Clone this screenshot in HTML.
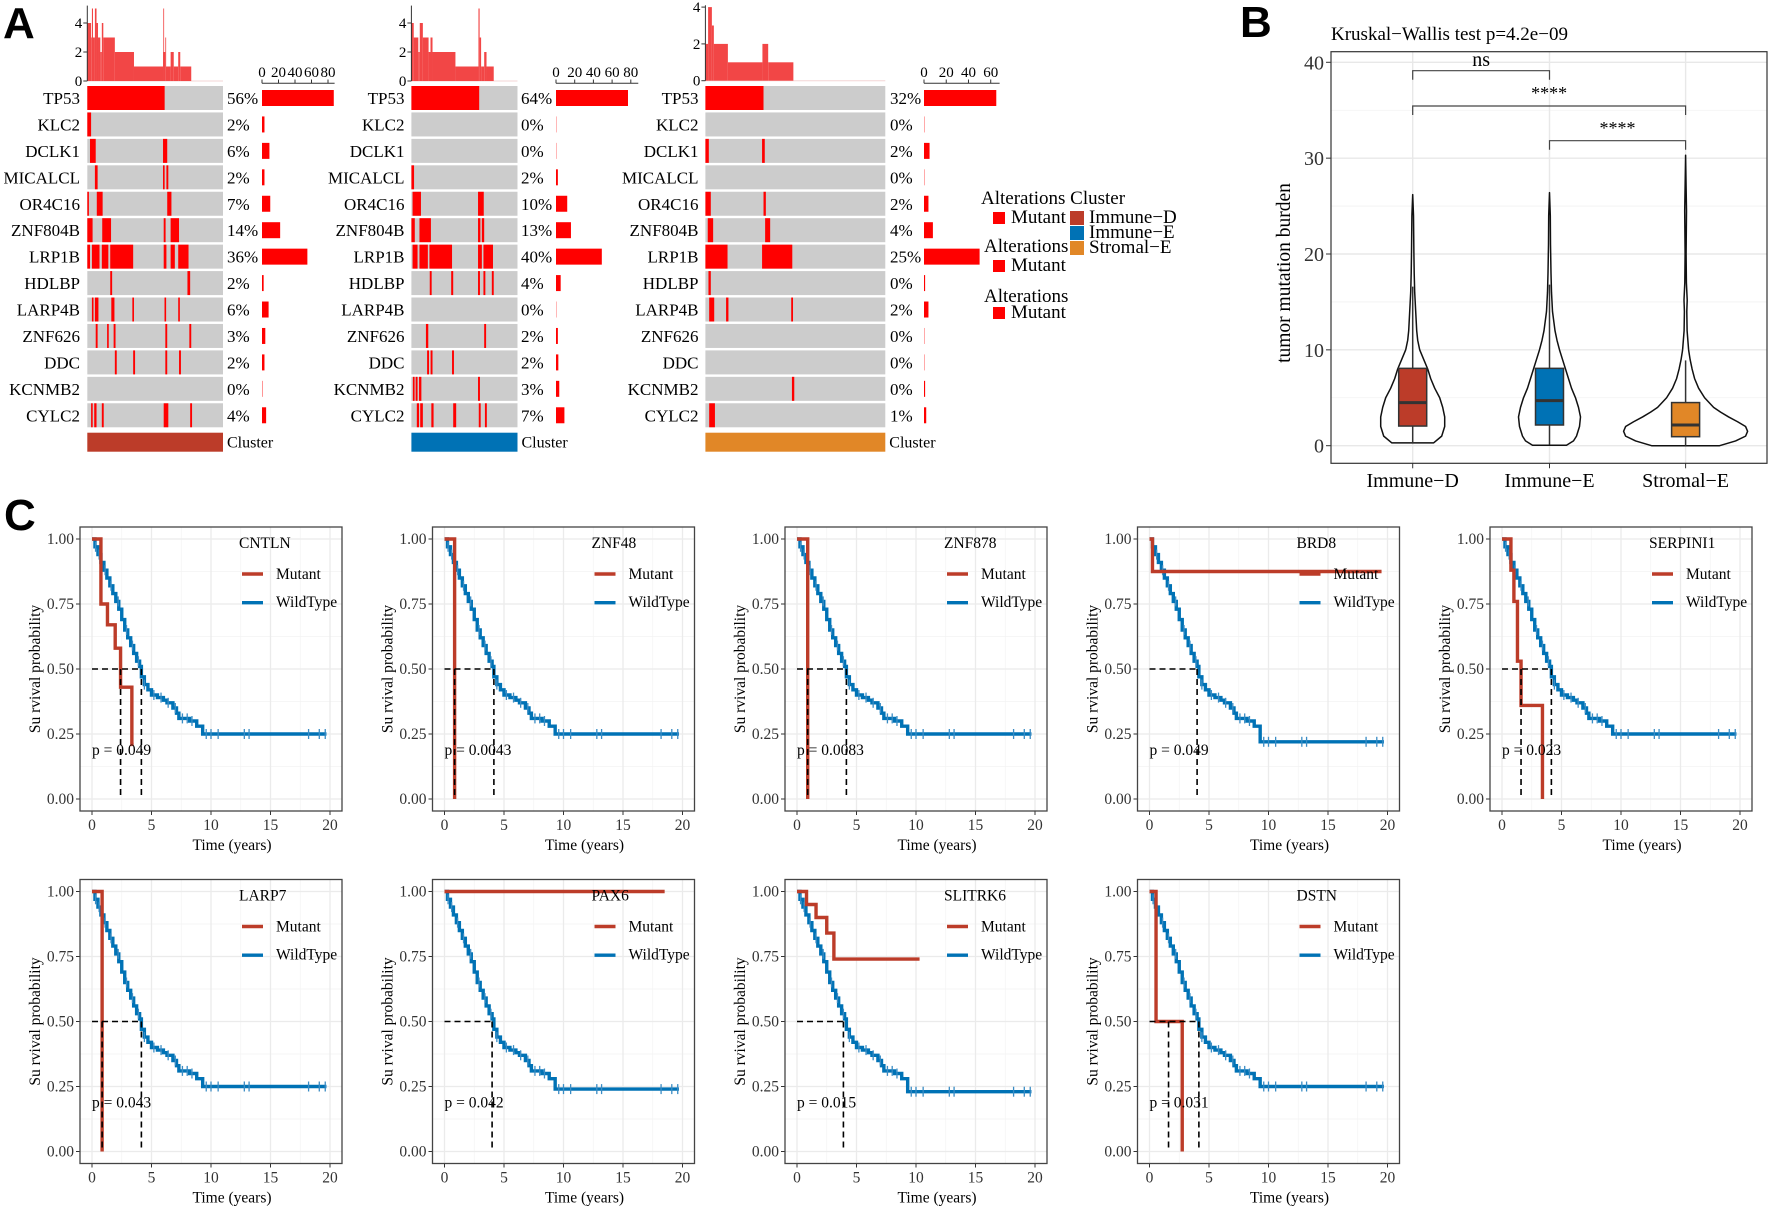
<!DOCTYPE html>
<html><head><meta charset="utf-8">
<style>
html,body{margin:0;padding:0;background:#fff;}
svg{display:block;font-family:"Liberation Serif",serif;}
</style></head>
<body>
<svg id="fig" width="1772" height="1207" viewBox="0 0 1772 1207">
<rect x="0" y="0" width="1772" height="1207" fill="#fff"/>
<text x="3" y="38" font-family="Liberation Sans, sans-serif" font-weight="bold" font-size="44">A</text>
<text x="1240" y="37" font-family="Liberation Sans, sans-serif" font-weight="bold" font-size="44">B</text>
<text x="4" y="530" font-family="Liberation Sans, sans-serif" font-weight="bold" font-size="44">C</text>
<g font-size="19">
<text x="981" y="204">Alterations Cluster</text>
<rect x="993" y="212" width="12" height="12" fill="#ff0000"/>
<text x="1011" y="223">Mutant</text>
<rect x="1070" y="211" width="14" height="14" fill="#BC3C29"/>
<rect x="1070" y="226" width="14" height="14" fill="#0072B5"/>
<rect x="1070" y="241" width="14" height="14" fill="#E18727"/>
<text x="1089" y="223">Immune−D</text>
<text x="1089" y="238">Immune−E</text>
<text x="1089" y="253">Stromal−E</text>
<text x="984" y="252">Alterations</text>
<rect x="993" y="260" width="12" height="12" fill="#ff0000"/>
<text x="1011" y="271">Mutant</text>
<text x="984" y="302">Alterations</text>
<rect x="993" y="307" width="12" height="12" fill="#ff0000"/>
<text x="1011" y="318">Mutant</text>
</g>
</svg>
<script>
// ---------- Panel A data ----------
const genes=['TP53','KLC2','DCLK1','MICALCL','OR4C16','ZNF804B','LRP1B','HDLBP','LARP4B','ZNF626','DDC','KCNMB2','CYLC2'];
const pct1=['56%','2%','6%','2%','7%','14%','36%','2%','6%','3%','2%','0%','4%'];
const pct2=['64%','0%','0%','2%','10%','13%','40%','4%','0%','2%','2%','3%','7%'];
const pct3=['32%','0%','2%','0%','2%','4%','25%','0%','2%','0%','0%','0%','1%'];
const counts1=[87,3,9,3,10,22,55,2,8,4,3,0.5,5];
const counts2=[77,0.3,0.3,2,12,16,49,5,0.3,2,2.5,3.5,9];
const counts3=[65,0.3,5,0.3,4,8,50,1,4,0.3,0.3,1,2];
const barTicks1=[0,20,40,60,80];
const barTicks2=[0,20,40,60,80];
const barTicks3=[0,20,40,60];
const segs1=[[[0,0.57]],[[0,0.028]],[[0.02,0.062],[0.558,0.589]],[[0.056,0.076],[0.558,0.569],[0.583,0.597]],
[[0,0.011],[0.07,0.113],[0.589,0.62]],[[0,0.039],[0.11,0.175],[0.563,0.577],[0.614,0.676]],
[[0,0.02],[0.034,0.09],[0.107,0.155],[0.169,0.338],[0.563,0.583],[0.614,0.645],[0.67,0.746]],
[[0.169,0.183],[0.738,0.758]],[[0.034,0.045],[0.056,0.082],[0.177,0.2],[0.332,0.344],[0.569,0.58],[0.67,0.682]],
[[0.062,0.076],[0.146,0.158],[0.194,0.208],[0.575,0.589],[0.752,0.766]],
[[0.203,0.217],[0.338,0.352],[0.575,0.589],[0.676,0.69]],[],
[[0.028,0.039],[0.051,0.068],[0.107,0.121],[0.563,0.597],[0.758,0.772]]];
const segs2=[[[0,0.639]],[],[],[[0,0.025]],[[0.011,0.09],[0.628,0.682]],[[0,0.032],[0.076,0.184],[0.628,0.65],[0.664,0.686]],
[[0.011,0.058],[0.076,0.155],[0.170,0.383],[0.628,0.664],[0.679,0.769]],
[[0.173,0.191],[0.375,0.394],[0.628,0.646],[0.679,0.697],[0.758,0.776]],[],
[[0.137,0.159],[0.686,0.704]],[[0.148,0.166],[0.181,0.199],[0.383,0.401]],
[[0.014,0.03],[0.04,0.058],[0.072,0.094],[0.628,0.646]],
[[0.051,0.072],[0.083,0.108],[0.188,0.209],[0.394,0.422],[0.635,0.653],[0.693,0.711]]];
const segs3=[[[0,0.323]],[],[[0,0.019],[0.315,0.33]],[],[[0,0.03],[0.323,0.336]],[[0.013,0.043],[0.332,0.36]],
[[0,0.123],[0.315,0.483]],[[0.017,0.03]],[[0.021,0.049],[0.115,0.128],[0.477,0.487]],[],[],[[0.481,0.494]],[[0.021,0.053]]];
const hist1=[[0,0.028,4],[0.028,0.034,3],[0.034,0.042,5],[0.042,0.056,3],[0.056,0.068,5],[0.068,0.079,4],[0.079,0.096,3],[0.096,0.107,2],[0.107,0.118,4],[0.118,0.203,3],[0.203,0.344,2],[0.344,0.558,1],[0.558,0.575,2],[0.56,0.566,5],[0.575,0.58,3],[0.58,0.614,1],[0.614,0.637,2],[0.637,0.67,1],[0.67,0.685,2],[0.685,0.766,1]];
const hist2=[[0,0.022,4],[0.022,0.065,3],[0.065,0.079,2],[0.079,0.108,4],[0.108,0.162,3],[0.162,0.18,2],[0.18,0.199,3],[0.199,0.415,2],[0.415,0.632,1],[0.632,0.643,5],[0.643,0.657,3],[0.657,0.686,1],[0.686,0.708,2],[0.708,0.776,1]];
const hist3=[[0,0.015,2],[0.015,0.036,4],[0.036,0.047,3],[0.047,0.125,2],[0.125,0.317,1],[0.317,0.349,2],[0.349,0.489,1]];
const histTicks=[0,2,4];

// ---------- Panel B data ----------
const groups=['Immune−D','Immune−E','Stromal−E'];
const groupColors=['#BC3C29','#0072B5','#E18727'];
const yTicksB=[0,10,20,30,40];
const violinD=[[0.3,21],[1,29],[2,32],[3,32],[4,30],[5,27],[6,22],[7,18],[8,15],[9,11],[10,7],[11,5],[12,4],[14,3],[16,2],[18,1.5],[20,1.2],[22,1],[24,0.8],[26.2,0]];
const violinE=[[0.05,17],[0.5,24],[1,27],[2,30],[3,31],[4,29],[5,26],[6,22],[7,19],[8,16],[9,13],[10,10],[11,7.5],[12,5.5],[14,3],[16,2],[18,1.5],[21,1],[24,0.8],[26.4,0]];
const violinS=[[0,34],[0.5,50],[1,60],[1.5,62],[2,60],[2.5,52],[3,43],[3.5,35],[4,28],[5,19],[6,13],[7,9],[8,6.5],[9,4.5],[10,3],[12,1.5],[14,1.2],[15.2,1.6],[17,0.8],[20,0.5],[24.5,0.9],[27,0.5],[30.3,0]];
const boxQ1=[2.05,2.16,0.94];
const boxMed=[4.5,4.7,2.16];
const boxQ3=[8.07,8.07,4.5];
const whiskLo=[0.3,0.1,0];
const whiskHi=[16.6,16.8,8.9];

// ---------- Panel C data ----------
const kmGenes=['CNTLN','ZNF48','ZNF878','BRD8','SERPINI1','LARP7','PAX6','SLITRK6','DSTN'];
const pvals=['p = 0.049','p = 0.0043','p = 0.0083','p = 0.049','p = 0.023','p = 0.043','p = 0.042','p = 0.015','p = 0.031'];
const wtTimes=[0,0.25,0.5,0.75,1,1.25,1.5,1.75,2,2.25,2.5,2.75,3,3.25,3.5,3.75,4,4.15,4.4,4.7,5,5.5,6,6.3,6.8,7.1,7.3,8.2,8.8,9.3];
const wtSurv=[1,0.97,0.94,0.91,0.88,0.85,0.82,0.79,0.76,0.73,0.69,0.65,0.62,0.59,0.56,0.53,0.51,0.47,0.44,0.42,0.40,0.39,0.38,0.37,0.35,0.33,0.31,0.30,0.28];
const wtTail=[0.25,0.25,0.25,0.22,0.25,0.25,0.24,0.23,0.25];
const wtEnd=19.7;
const wtCensor=[0.3,0.6,1.1,1.6,2.2,2.9,3.4,3.9,4.4,5.2,5.8,6.4,7.0,7.6,8.0,8.4,9.6,10.0,10.6,12.8,13.2,18.2,19.1,19.6];
const mutTimes=[[0,0.75,1.3,1.95,2.4,3.35,3.5],[0,0.85],[0,0.9],[0,0.25,19.5],[0,0.75,1.0,1.3,1.6,3.4],[0,0.85],[0,18.5],[0,0.8,1.6,2.5,3.1,10.3],[0,0.55,2.75]];
const mutSurv=[[1,0.75,0.67,0.58,0.43,0.21,0.21],[1,0],[1,0],[1,0.875,0.875],[1,0.88,0.76,0.53,0.36,0],[1,0],[1,1],[1,0.95,0.9,0.84,0.74,0.74],[1,0.5,0]];
const mutMedian=[2.4,0.85,0.9,null,1.6,0.85,null,null,1.6];
const wtMedian=[4.15,4.15,4.15,4.0,4.15,4.15,4.0,3.9,4.15];
const kmXTicks=[0,5,10,15,20];
const kmYTicks=[0,0.25,0.5,0.75,1];
const kmYLabels=['0.00','0.25','0.50','0.75','1.00'];

const svg=document.getElementById('fig');
const NS=svg.namespaceURI;
function mk(tag,attrs,parent){const e=document.createElementNS(NS,tag);for(const k in attrs)e.setAttribute(k,attrs[k]);(parent||svg).appendChild(e);return e;}
function tx(str,attrs,parent){const e=mk('text',attrs,parent);e.textContent=str;return e;}

// ---------- Oncoplots ----------
const oncoCfg=[
 {mx:87.3,mw:135.7,lx:80,px:227,bx:262,bs:0.825,hu:14.5,hb:81,htop:5.2},
 {mx:411.4,mw:106.1,lx:404.5,px:521,bx:556,bs:0.935,hu:14.5,hb:81,htop:5.2},
 {mx:705.4,mw:179.9,lx:698.5,px:890,bx:924,bs:1.112,hu:18.4,hb:80.7,htop:4.1}];
const pcts=[pct1,pct2,pct3],counts=[counts1,counts2,counts3],segs=[segs1,segs2,segs3],hists=[hist1,hist2,hist3],bticks=[barTicks1,barTicks2,barTicks3];
const rowTop=i=>86+i*26.44;
for(let p=0;p<3;p++){
 const c=oncoCfg[p];
 const g=mk('g',{'font-size':15});
 
 
 const hy=v=>c.hb-v*c.hu;
 const base=mk('line',{x1:c.mx,x2:c.mx+c.mw,y1:c.hb,y2:c.hb,stroke:'#f3d6d6','stroke-width':1},g);
 
 
 hists[p].forEach(h=>{
  const r=mk('rect',{x:c.mx+h[0]*c.mw,y:hy(h[2]),width:Math.max(0.8,(h[1]-h[0])*c.mw),height:h[2]*c.hu,fill:'#f24646'},g);
  
  
 });
 const ax=mk('line',{x1:c.mx,x2:c.mx,y1:c.hb,y2:hy(c.htop),stroke:'#333','stroke-width':1},g);
 
 
 histTicks.forEach(t=>{
  const tl=mk('line',{x1:c.mx-4,x2:c.mx,y1:hy(t),y2:hy(t),stroke:'#333'},g);
  
  
  const lb=tx(String(t),{x:c.mx-5,y:hy(t)+5,'text-anchor':'end'},g);
  
  
 });
 const bmax=bticks[p][bticks[p].length-1];
 const bal=mk('line',{x1:c.bx,x2:c.bx+(bmax+8)*c.bs,y1:83.3,y2:83.3,stroke:'#333'},g);
 
 
 bticks[p].forEach(t=>{
  const tl=mk('line',{x1:c.bx+t*c.bs,x2:c.bx+t*c.bs,y1:79.5,y2:83.3,stroke:'#333'},g);
  
  
  const lb=tx(String(t),{x:c.bx+t*c.bs,y:77,'text-anchor':'middle'},g);
  
  
 });
 genes.forEach((gn,i)=>{
  const top=rowTop(i);
  const lab=tx(gn,{x:c.lx,y:top+18,'text-anchor':'end','font-size':17},g);
  
  
  const cell=mk('rect',{x:c.mx,y:top,width:c.mw,height:24,fill:'#cccccc'},g);
  
  
  segs[p][i].forEach(s=>{
   const r=mk('rect',{x:c.mx+s[0]*c.mw,y:top,width:Math.max(1.6,(s[1]-s[0])*c.mw),height:24,fill:'#ff0000'},g);
   
   
  });
  const pt=tx(pcts[p][i],{x:c.px,y:top+18,'font-size':17},g);
  
  
  const br=mk('rect',{x:c.bx,y:top+4,width:counts[p][i]*c.bs,height:16,fill:'#ff0000'},g);
  
  
 });
 const cl=mk('rect',{x:c.mx,y:432.7,width:c.mw,height:19,fill:groupColors[p]},g);
 
 
 const ct=tx('Cluster',{x:c.mx+c.mw+4,y:447.5,'font-size':16},g);
 
 
}

// ---------- Panel B ----------
(function(){
 const g=mk('g',{});
 
 
 const L=1331,R=1767,T=51.7,B=463.3;
 const y=v=>445.7-v*9.585;
 const xs=[1412.7,1549.5,1685.6];
 for(let v=5;v<=40;v+=10){const l=mk('line',{x1:L,x2:R,y1:y(v),y2:y(v),stroke:'#f2f2f2','stroke-width':0.8},g);
  
  }
 yTicksB.forEach(v=>{const l=mk('line',{x1:L,x2:R,y1:y(v),y2:y(v),stroke:'#e8e8e8','stroke-width':1.4},g);
  
  
  const tk=mk('line',{x1:L-5,x2:L,y1:y(v),y2:y(v),stroke:'#333'},g);
  
  
  const lb=tx(String(v),{x:L-7,y:y(v)+7,'text-anchor':'end','font-size':20,fill:'#333'},g);
  
  });
 xs.forEach((x,i)=>{const l=mk('line',{x1:x,x2:x,y1:T,y2:B,stroke:'#e8e8e8','stroke-width':1.4},g);
  
  });
 const vios=[violinD,violinE,violinS];
 vios.forEach((vd,i)=>{
  const cx=xs[i];
  let d='M'+(cx+vd[0][1])+','+y(vd[0][0]);
  vd.forEach(p=>{d+=' L'+(cx+p[1])+','+y(p[0]);});
  for(let k=vd.length-1;k>=0;k--){d+=' L'+(cx-vd[k][1])+','+y(vd[k][0]);}
  d+=' Z';
  const vp=mk('path',{d:d,fill:'#fff',stroke:'#111','stroke-width':1.5,'stroke-linejoin':'round'},g);
  
  
  const wl=mk('line',{x1:cx,x2:cx,y1:y(whiskLo[i]),y2:y(whiskHi[i]),stroke:'#333','stroke-width':1.5},g);
  
  
  const bx=mk('rect',{x:cx-14,y:y(boxQ3[i]),width:28,height:y(boxQ1[i])-y(boxQ3[i]),fill:groupColors[i],stroke:'#333','stroke-width':1.5},g);
  
  
  const md=mk('line',{x1:cx-14,x2:cx+14,y1:y(boxMed[i]),y2:y(boxMed[i]),stroke:'#333','stroke-width':3},g);
  
  
  const tk=mk('line',{x1:cx,x2:cx,y1:B,y2:B+5,stroke:'#333'},g);
  
  
  const lb=tx(groups[i],{x:cx,y:487,'text-anchor':'middle','font-size':20},g);
  
  
 });
 const fr=mk('rect',{x:L,y:T,width:R-L,height:B-T,fill:'none',stroke:'#333','stroke-width':1.2},g);
 
 
 const brs=[[0,1,70.7,'ns',66],[0,2,106,'****',99],[1,2,140.7,'****',134]];
 brs.forEach(b=>{
  const p=mk('path',{d:'M'+xs[b[0]]+','+(b[2]+9)+' V'+b[2]+' H'+xs[b[1]]+' V'+(b[2]+9),fill:'none',stroke:'#444','stroke-width':1.2},g);
  
  
  const t=tx(b[3],{x:(xs[b[0]]+xs[b[1]])/2,y:b[4],'text-anchor':'middle','font-size':b[3]==='ns'?20:18},g);
  
  
 });
 const tt=tx('Kruskal−Wallis test p=4.2e−09',{x:1331,y:40,'font-size':19},g);
 
 
 const yl=tx('tumor mutation burden',{x:0,y:0,'text-anchor':'middle','font-size':19.5,transform:'translate(1290,273) rotate(-90)'},g);
 
 
})();

// ---------- Panel C ----------
kmGenes.forEach((gn,k)=>{
 const ox=(k%5)*352.5, oy=Math.floor(k/5)*352.5;
 const X=t=>92+ox+t*11.9, Y=s=>799+oy-260*s;
 const L=80+ox,R=342+ox,T=527+oy,B=811+oy;
 const g=mk('g',{'font-size':15.5});
 
 
 for(let t=2.5;t<20;t+=5){const l=mk('line',{x1:X(t),x2:X(t),y1:T,y2:B,stroke:'#f3f3f3','stroke-width':0.8},g);
  
  }
 for(let s=0.125;s<1;s+=0.25){const l=mk('line',{x1:L,x2:R,y1:Y(s),y2:Y(s),stroke:'#f3f3f3','stroke-width':0.8},g);
  
  }
 kmXTicks.forEach(t=>{const l=mk('line',{x1:X(t),x2:X(t),y1:T,y2:B,stroke:'#ebebeb','stroke-width':1.3},g);
  
  
  const tk=mk('line',{x1:X(t),x2:X(t),y1:B,y2:B+4,stroke:'#333'},g);
  
  
  const lb=tx(String(t),{x:X(t),y:B+19,'text-anchor':'middle',fill:'#333'},g);
  
  });
 kmYTicks.forEach((s,i)=>{const l=mk('line',{x1:L,x2:R,y1:Y(s),y2:Y(s),stroke:'#ebebeb','stroke-width':1.3},g);
  
  
  const tk=mk('line',{x1:L-4,x2:L,y1:Y(s),y2:Y(s),stroke:'#333'},g);
  
  
  const lb=tx(kmYLabels[i],{x:L-6,y:Y(s)+5,'text-anchor':'end',fill:'#333'},g);
  
  });
 const tail=wtTail[k];
 const wt=wtSurv.concat([tail]);
 let d='M'+X(wtTimes[0])+','+Y(wt[0]);
 for(let i=1;i<wtTimes.length;i++){d+=' H'+X(wtTimes[i])+' V'+Y(wt[i]);}
 d+=' H'+X(wtEnd);
 const wp=mk('path',{d:d,fill:'none',stroke:'#0072B5','stroke-width':3.4},g);
 
 
 wtCensor.forEach(t=>{
  let s=wt[0];for(let i=0;i<wtTimes.length;i++){if(wtTimes[i]<=t)s=wt[i];}
  const c=mk('line',{x1:X(t),x2:X(t),y1:Y(s)-5,y2:Y(s)+5,stroke:'#3a8cc4','stroke-width':1.3},g);
  
  
 });
 const mt=mutTimes[k],ms=mutSurv[k];
 let md='M'+X(mt[0])+','+Y(ms[0]);
 for(let i=1;i<mt.length;i++){md+=' H'+X(mt[i])+' V'+Y(ms[i]);}
 const mp=mk('path',{d:md,fill:'none',stroke:'#BC3C29','stroke-width':3.4},g);
 
 
 const hm=mk('line',{x1:X(0),x2:X(wtMedian[k]),y1:Y(0.5),y2:Y(0.5),stroke:'#000','stroke-width':1.6,'stroke-dasharray':'6,4'},g);
 
 
 [mutMedian[k],wtMedian[k]].forEach(m=>{if(m===null)return;
  const vl=mk('line',{x1:X(m),x2:X(m),y1:Y(0.5),y2:Y(0),stroke:'#000','stroke-width':1.6,'stroke-dasharray':'6,4'},g);
  
  });
 const fr=mk('rect',{x:L,y:T,width:R-L,height:B-T,fill:'none',stroke:'#444','stroke-width':1.3},g);
 
 
 const pv=tx(pvals[k],{x:92+ox,y:755+oy},g);
 
 
 const gt=tx(gn,{x:239+ox,y:548+oy},g);
 
 
 const l1=mk('line',{x1:242+ox,x2:263+ox,y1:574+oy,y2:574+oy,stroke:'#BC3C29','stroke-width':3.4},g);
 
 
 const t1=tx('Mutant',{x:276+ox,y:579+oy},g);
 
 
 const l2=mk('line',{x1:242+ox,x2:263+ox,y1:602.7+oy,y2:602.7+oy,stroke:'#0072B5','stroke-width':3.4},g);
 
 
 const t2=tx('WildType',{x:276+ox,y:607+oy},g);
 
 
 const xl=tx('Time (years)',{x:232+ox,y:850+oy,'text-anchor':'middle'},g);
 
 
 const yl=tx('Su rvival probability',{x:0,y:0,'text-anchor':'middle',transform:'translate('+(40+ox)+','+(669+oy)+') rotate(-90)'},g);
 
 
});
</script>
</body></html>
